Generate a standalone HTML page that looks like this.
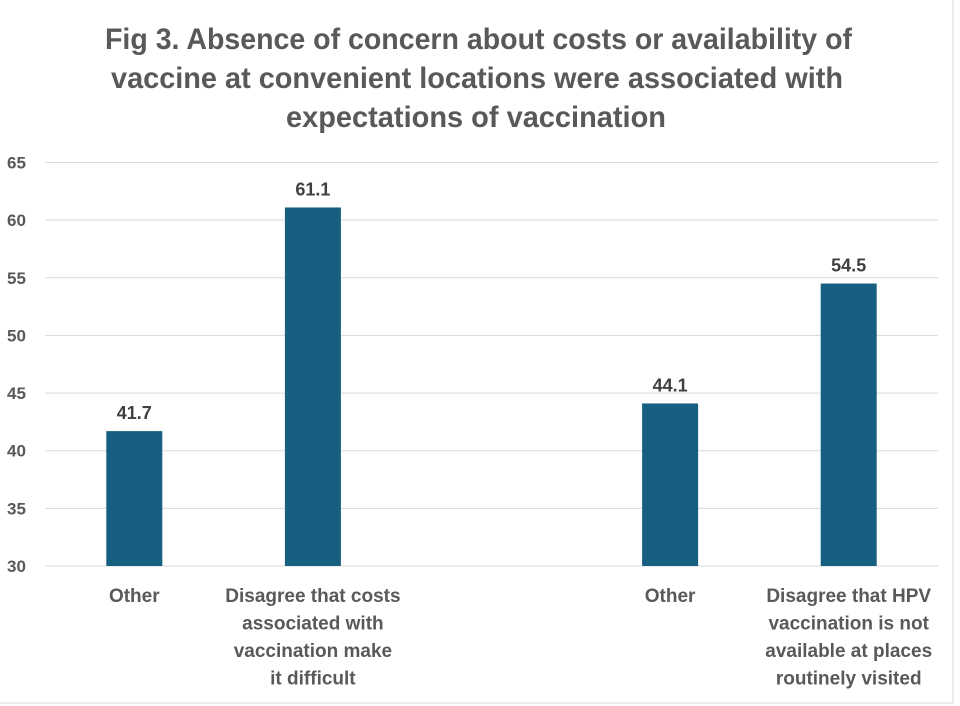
<!DOCTYPE html>
<html><head><meta charset="utf-8"><style>
body{margin:0;background:#fff;}
svg{display:block;font-family:"Liberation Sans",sans-serif;}
</style></head><body>
<svg id="chart" width="960" height="706">
<rect x="0" y="0" width="960" height="706" fill="#fff"/>
<path d="M953 0 V703 H0" fill="none" stroke="#d9d9d9"/>
<g fill="#595959" font-weight="bold" font-size="30">
<text x="105" y="49" textLength="747" lengthAdjust="spacingAndGlyphs">Fig 3. Absence of concern about costs or availability of</text>
<text x="111" y="88" textLength="732" lengthAdjust="spacingAndGlyphs">vaccine at convenient locations were associated with</text>
<text x="286" y="127" textLength="380" lengthAdjust="spacingAndGlyphs">expectations of vaccination</text>
</g>
<g id="grid"></g><g id="bars"></g><g id="labels"></g>
</svg>
<script>
const categories=[["Other"],["Disagree that costs","associated with","vaccination make","it difficult"],[],["Other"],["Disagree that HPV","vaccination is not","available at places","routinely visited"]];
const values=[41.7,61.1,null,44.1,54.5];
const valueLabels=["41.7","61.1","","44.1","54.5"];
const yTicks=[30,35,40,45,50,55,60,65];
const NS="http://www.w3.org/2000/svg";
const x0=45,x1=938,y30=566,y65=162.5;
const slot=(x1-x0)/categories.length;
function y(v){return y30-(v-30)/(65-30)*(y30-y65);}
function cx(i){return x0+slot*(i+0.5);}
function mk(t,a,p,txt){const e=document.createElementNS(NS,t);for(const k in a)e.setAttribute(k,a[k]);if(txt!=null)e.textContent=txt;document.getElementById(p).appendChild(e);return e;}
yTicks.forEach(v=>{
 const l=mk('line',{x1:x0,x2:x1,y1:y(v),y2:y(v),stroke:'#d9d9d9','stroke-width':1},'grid');
 
 
 const t=mk('text',{x:7,y:y(v)+6,fill:'#595959','font-size':17,'font-weight':'bold'},'grid',String(v));
 
 
});
values.forEach((v,i)=>{
 if(v!=null){
 const r=mk('rect',{x:cx(i)-28,y:y(v),width:56,height:y30-y(v),fill:'#175f80'},'bars');
 
 
 const t=mk('text',{x:cx(i),y:y(v)-12,'text-anchor':'middle',fill:'#404040','font-size':18,'font-weight':'bold'},'labels',valueLabels[i]);
 
 
 }
 categories[i].forEach((s,j)=>{
 const t=mk('text',{x:cx(i),y:602+j*27.5,'text-anchor':'middle',fill:'#595959','font-size':19,'font-weight':'bold'},'labels',s);
 
 
 });
});
</script>
</body></html>
